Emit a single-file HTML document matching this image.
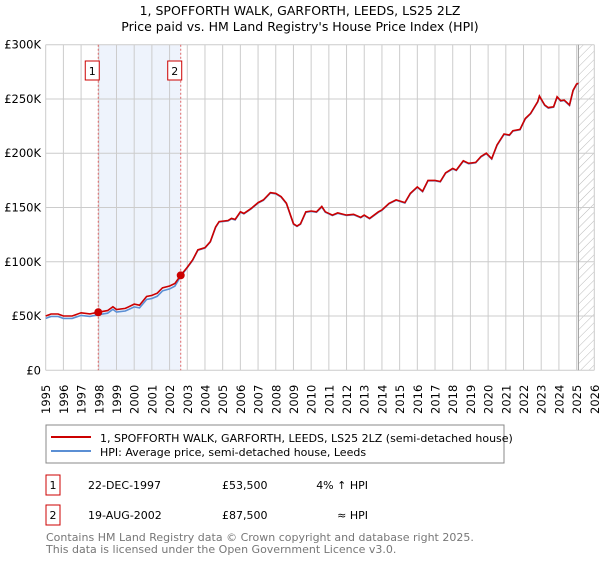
<!DOCTYPE html>
<html><head><meta charset="utf-8"><style>
body{margin:0;background:#fff;font-family:"DejaVu Sans","Liberation Sans",sans-serif;}
svg text{font-family:"DejaVu Sans","Liberation Sans",sans-serif;}
</style></head><body>
<svg id="chart" width="600" height="560" xmlns="http://www.w3.org/2000/svg">
<defs><pattern id="hatch" width="6" height="6" patternUnits="userSpaceOnUse" patternTransform="rotate(45)"><line x1="0" y1="0" x2="0" y2="6" stroke="#bbb" stroke-width="1"/></pattern></defs>
<text x="300" y="15" text-anchor="middle" font-size="12.5">1, SPOFFORTH WALK, GARFORTH, LEEDS, LS25 2LZ</text>
<text x="300" y="31" text-anchor="middle" font-size="12.5">Price paid vs. HM Land Registry's House Price Index (HPI)</text>
<g id="plot"></g>
<rect x="46" y="425" width="458" height="38" fill="#fff" stroke="#888"/>
<line x1="51" y1="437" x2="91" y2="437" stroke="#cc0000" stroke-width="2"/>
<text x="100" y="442" font-size="11">1, SPOFFORTH WALK, GARFORTH, LEEDS, LS25 2LZ (semi-detached house)</text>
<line x1="51" y1="451" x2="91" y2="451" stroke="#5b8fd4" stroke-width="2"/>
<text x="100" y="456" font-size="11">HPI: Average price, semi-detached house, Leeds</text>
<g font-size="11">
<rect x="46" y="475" width="14" height="20" fill="#fff" stroke="#cc0000"/>
<text x="53" y="489" text-anchor="middle">1</text>
<text x="88" y="489">22-DEC-1997</text>
<text x="222" y="489">£53,500</text>
<text x="368" y="489" text-anchor="end">4% ↑ HPI</text>
<rect x="46" y="505" width="14" height="20" fill="#fff" stroke="#cc0000"/>
<text x="53" y="519" text-anchor="middle">2</text>
<text x="88" y="519">19-AUG-2002</text>
<text x="222" y="519">£87,500</text>
<text x="368" y="519" text-anchor="end">≈ HPI</text>
</g>
<text x="46" y="541" font-size="11" fill="#777">Contains HM Land Registry data © Crown copyright and database right 2025.</text>
<text x="46" y="553" font-size="11" fill="#777">This data is licensed under the Open Government Licence v3.0.</text>
</svg>
<script>
const years=[1995,1996,1997,1998,1999,2000,2001,2002,2003,2004,2005,2006,2007,2008,2009,2010,2011,2012,2013,2014,2015,2016,2017,2018,2019,2020,2021,2022,2023,2024,2025,2026];
const yTicks=[0,50000,100000,150000,200000,250000,300000];
const yTickLabels=["£0","£50K","£100K","£150K","£200K","£250K","£300K"];
const redT=[1995.0,1995.3,1995.7,1996.0,1996.5,1997.0,1997.5,1997.97,1998.5,1998.8,1999.0,1999.5,2000.0,2000.3,2000.7,2001.0,2001.3,2001.6,2002.0,2002.3,2002.63,2003.0,2003.3,2003.6,2004.0,2004.3,2004.6,2004.8,2005.3,2005.5,2005.7,2006.0,2006.2,2006.6,2007.0,2007.3,2007.7,2008.0,2008.3,2008.6,2009.0,2009.2,2009.4,2009.7,2010.0,2010.3,2010.6,2010.8,2011.2,2011.5,2012.0,2012.4,2012.8,2013.0,2013.3,2013.8,2014.0,2014.4,2014.8,2015.3,2015.6,2016.0,2016.3,2016.6,2017.0,2017.3,2017.6,2018.0,2018.2,2018.6,2018.9,2019.3,2019.6,2019.9,2020.2,2020.5,2020.9,2021.2,2021.4,2021.8,2022.1,2022.4,2022.8,2022.9,2023.2,2023.4,2023.7,2023.9,2024.1,2024.3,2024.6,2024.8,2025.0,2025.1];
const redV=[50,51.9,51.9,50,50,53,52,53.5,55,58.6,56,57,61,60,68,69,71,76,77.7,80,87.5,95,101.6,111,113,118.5,132,137,138,140,139,146,144.6,149,154.5,157,163.7,163,160,154,135,133,135,146,146.8,146,151,146,143,145,143,143.7,141,143,140,146,147.7,153.8,157,154.5,163,169,165,175,175,174,182,186,184.5,193,190.7,191.6,197,200,195,207.6,217.7,216.8,220.8,222,232,236.7,247.5,252.7,244.4,242,242.8,252,248.4,249,244.4,258,263.8,264.4];
const hpiT=[1995.0,1995.3,1995.7,1996.0,1996.5,1997.0,1997.5,1997.97,1998.5,1998.8,1999.0,1999.5,2000.0,2000.3,2000.7,2001.0,2001.3,2001.6,2002.0,2002.3,2002.63,2003.0,2003.3,2003.6,2004.0,2004.3,2004.6,2004.8,2005.3,2005.5,2005.7,2006.0,2006.2,2006.6,2007.0,2007.3,2007.7,2008.0,2008.3,2008.6,2009.0,2009.2,2009.4,2009.7,2010.0,2010.3,2010.6,2010.8,2011.2,2011.5,2012.0,2012.4,2012.8,2013.0,2013.3,2013.8,2014.0,2014.4,2014.8,2015.3,2015.6,2016.0,2016.3,2016.6,2017.0,2017.3,2017.6,2018.0,2018.2,2018.6,2018.9,2019.3,2019.6,2019.9,2020.2,2020.5,2020.9,2021.2,2021.4,2021.8,2022.1,2022.4,2022.8,2022.9,2023.2,2023.4,2023.7,2023.9,2024.1,2024.3,2024.6,2024.8,2025.0,2025.1];
const hpiV=[47.8,49.6,49.6,47.8,47.8,50.6,49.7,51.2,52.6,56.1,53.6,54.6,58.4,57.5,65.2,66.2,68.2,73.2,75,77.6,86.5,94.6,101.2,110.7,112.7,118.2,131.6,136.6,137.6,139.6,138.6,145.6,144.2,148.6,154.1,156.6,163.3,162.6,159.6,153.6,134.6,132.6,134.6,145.6,146.4,145.6,150.5,145.6,142.6,144.6,142.6,143.3,140.6,142.6,139.6,145.6,147.3,153.4,156.6,154.1,162.6,168.6,164.6,174.6,174.6,173.6,181.6,185.6,184.1,192.6,190.3,191.2,196.6,199.6,194.6,207.2,217.3,216.4,220.4,221.6,231.6,236.3,247.1,252.3,244,241.6,242.4,251.6,248,248.6,244,257.6,263.4,264];
const sales=[{t:1997.97,v:53500,label:"1"},{t:2002.63,v:87500,label:"2"}];
const X0=45.7,X1=594.3,Y0=370.3,Y1=44.7;
const xs=t=>X0+(t-1995)/31*(X1-X0);
const ys=v=>Y0-v/300000*(Y0-Y1);
const NS="http://www.w3.org/2000/svg";
const g=document.getElementById('plot');
function mk(tag,attrs){const e=document.createElementNS(NS,tag);for(const k in attrs)e.setAttribute(k,attrs[k]);g.appendChild(e);return e;}
let e;
e=mk('rect',{x:xs(1997.97),y:Y1,width:xs(2002.63)-xs(1997.97),height:Y0-Y1,fill:'#eef3fc'});


e=mk('rect',{x:xs(2025.1),y:Y1,width:X1-xs(2025.1),height:Y0-Y1,fill:'url(#hatch)'});


years.forEach(y=>{
 e=mk('line',{x1:xs(y),x2:xs(y),y1:Y1,y2:Y0,stroke:'#ccc','stroke-width':1});
 
 
 e=mk('text',{x:0,y:0,'font-size':11.5,transform:`translate(${xs(y)+4.5},414) rotate(-90)`});
 e.textContent=y;
 
 
});
yTicks.forEach((v,i)=>{
 e=mk('line',{x1:X0,x2:X1,y1:ys(v),y2:ys(v),stroke:'#ccc','stroke-width':1});
 
 
 e=mk('text',{x:41,y:ys(v)+4,'font-size':11.5,'text-anchor':'end'});
 e.textContent=yTickLabels[i];
 
 
});
e=mk('line',{x1:xs(2025.1),x2:xs(2025.1),y1:Y1,y2:Y0,stroke:'#999','stroke-width':1});


sales.forEach(s=>{
 e=mk('line',{x1:xs(s.t),x2:xs(s.t),y1:Y1,y2:Y0,stroke:'#e06666','stroke-width':1,'stroke-dasharray':'2,2'});
 
 
});
const path=(T,V)=>T.map((t,i)=>(i?'L':'M')+xs(t).toFixed(1)+','+ys(V[i]*1000).toFixed(1)).join('');
e=mk('path',{d:path(hpiT,hpiV),fill:'none',stroke:'#5b8fd4','stroke-width':1.6});


e=mk('path',{d:path(redT,redV),fill:'none',stroke:'#cc0000','stroke-width':1.6});


sales.forEach(s=>{
 e=mk('circle',{cx:xs(s.t),cy:ys(s.v),r:4,fill:'#cc0000'});
 
 
 e=mk('rect',{x:xs(s.t)-13,y:61,width:14,height:19,fill:'#fff',stroke:'#cc0000'});
 
 
 e=mk('text',{x:xs(s.t)-6,y:75,'font-size':11,'text-anchor':'middle'});
 e.textContent=s.label;
 
 
});
</script>
</body></html>
